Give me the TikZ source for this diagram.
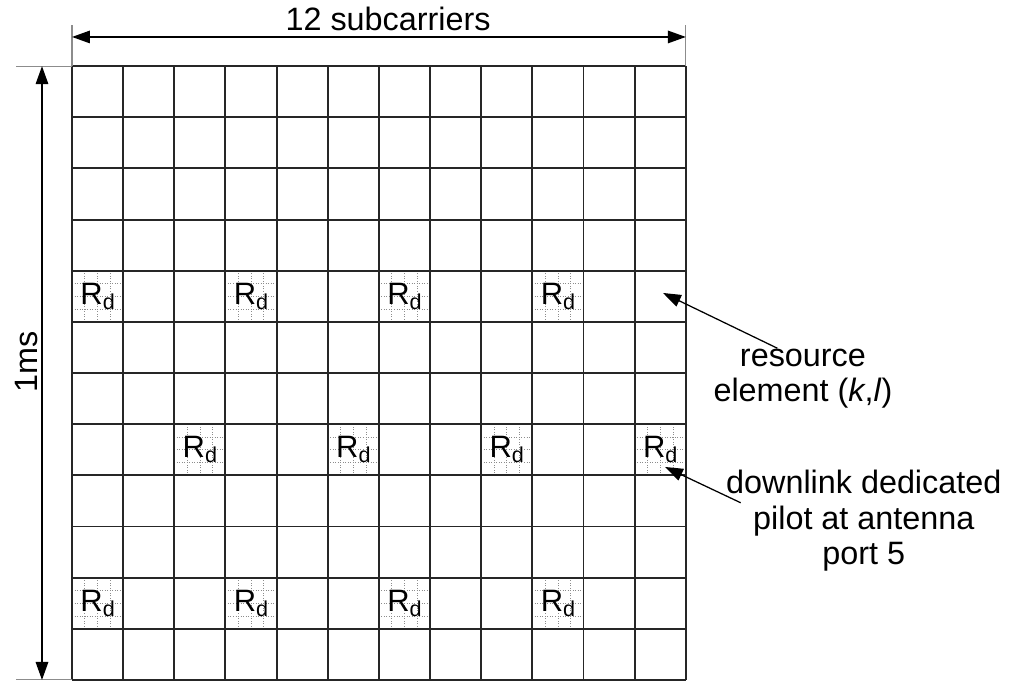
\documentclass[tikz,border=0pt]{standalone}
\usepackage{fontspec}
\setmainfont{Liberation Sans}
\usetikzlibrary{arrows.meta,positioning}

% pilot symbol R_d
\newcommand{\pilotRd}{R\raisebox{-2.8pt}{\fontsize{12pt}{12pt}\selectfont d}}

\begin{document}
\begin{tikzpicture}[
        >={Triangle[length=10pt,width=7pt]},
        gridline/.style={
            draw=black!85,
            line width=1.1pt
        },
        subgrid/.style={
            draw=black!45,
            line width=0.4pt,
            densely dotted
        },
        tickline/.style={
            draw=black!45,
            line width=0.6pt
        },
        dimarrow/.style={
            <->,
            line width=0.7pt
        },
        pointer/.style={
            ->,
            line width=0.7pt
        },
        pilot/.style={
            inner sep=0pt,
            font=\fontsize{17.2pt}{18pt}\selectfont
        },
        caption/.style={
            inner sep=0pt,
            align=center,
            font=\fontsize{18pt}{20pt}\selectfont
        }
    ]
    \useasboundingbox (-1.408,-0.02) rectangle (18.319,13.294);

    % Hatching of the pilot resource elements
    \foreach \c/\r in {0/7,3/7,6/7,9/7,2/4,5/4,8/4,11/4,0/1,3/1,6/1,9/1}
        \draw[subgrid, shift={(\c,\r)}] (0,0) grid[step=0.25] (1,1);

    % Resource grid: 12 subcarriers x 12 symbols
    \draw[gridline] (0,0) grid (12,12);

    % Pilots R_d
    \foreach \c/\r in {0/7,3/7,6/7,9/7,2/4,5/4,8/4,11/4,0/1,3/1,6/1,9/1}
        \node[pilot] (rd-\c-\r) at (\c+0.5,\r+0.5) {\pilotRd};

    % Frequency dimension
    \draw[tickline] (0,12) -- (0,12.8);
    \draw[tickline] (12,12) -- (12,12.8);
    \coordinate (scL) at (0,12.571);
    \coordinate (scR) at (12,12.571);
    \draw[dimarrow] (scL) -- (scR);
    \node[caption, anchor=base] (subc) at (6.18,12.69) {12 subcarriers};

    % Time dimension
    \draw[tickline] (-1.095,12) -- (0,12);
    \draw[tickline] (-1.095,0) -- (0,0);
    \coordinate (msT) at (-0.587,12);
    \coordinate (msB) at (-0.587,0);
    \draw[dimarrow] (msT) -- (msB);
    \node[caption, rotate=90, anchor=base] (onems) at (-0.684,6.22) {1ms};

    % Labels on the right (base = last line)
    \node[caption, anchor=base] (resel) at (14.29,5.435)
        {resource\\element (\textit{k},\textit{l})};
    \node[caption, anchor=base] (dedpilot) at (15.48,2.248)
        {downlink dedicated\\pilot at antenna\\port 5};

    % Pointers
    \coordinate (resTip) at (11.554,7.566);
    \coordinate (pilotTip) at (11.593,4.164);
    \draw[pointer] ([xshift=-0.5cm]resel.north) -- (resTip);
    \draw[pointer] ([shift={(0.29,0.35)}]dedpilot.west) -- (pilotTip);

\end{tikzpicture}
\end{document}
